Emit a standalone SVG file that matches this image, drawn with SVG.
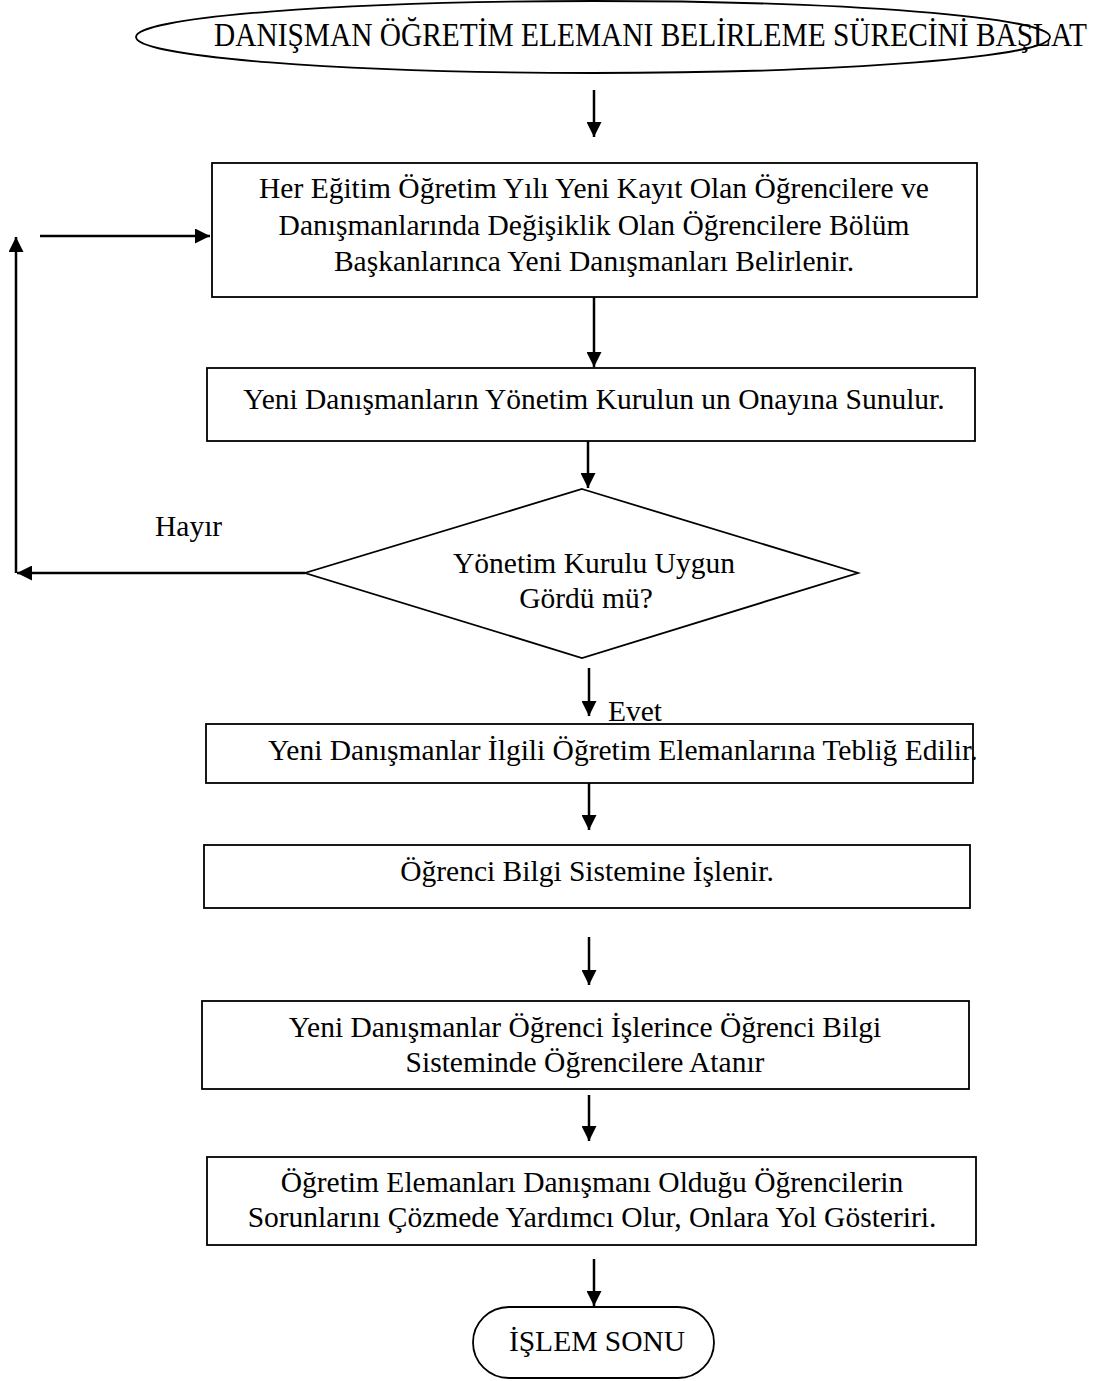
<svg xmlns="http://www.w3.org/2000/svg" width="1117" height="1381" viewBox="0 0 1117 1381">
  <style>
    .shape { fill: #ffffff; stroke: #000000; stroke-width: 1.8; }
    .line { fill: none; stroke: #000000; stroke-width: 2.5; }
    .txt { font-family: "Liberation Serif", "Times New Roman", serif; font-size: 29.5px; fill: #000000; }
    .title { font-size: 34px; }
    .mid { text-anchor: middle; }
  </style>
  <defs>
    <marker id="arrow" viewBox="0 0 10 10" refX="10" refY="5" markerWidth="6" markerHeight="6" markerUnits="strokeWidth" orient="auto">
      <path d="M0,0 L10,5 L0,10 z" fill="#000000"/>
    </marker>
  </defs>
  <rect width="1117" height="1381" fill="#ffffff"/>

  <!-- connectors -->
  <g id="connectors">
    <line class="line" x1="594" y1="90" x2="594" y2="137" marker-end="url(#arrow)"/>
    <line class="line" x1="594" y1="297" x2="594" y2="367" marker-end="url(#arrow)"/>
    <line class="line" x1="588" y1="441" x2="588" y2="488" marker-end="url(#arrow)"/>
    <!-- "Hayır" loop back to the first step -->
    <line class="line" x1="305" y1="573" x2="17" y2="573" marker-end="url(#arrow)"/>
    <line class="line" x1="16" y1="573" x2="16" y2="237" marker-end="url(#arrow)"/>
    <line class="line" x1="40" y1="236" x2="210" y2="236" marker-end="url(#arrow)"/>
    <!-- "Evet" path -->
    <line class="line" x1="589" y1="668" x2="589" y2="716" marker-end="url(#arrow)"/>
    <line class="line" x1="589" y1="783" x2="589" y2="830" marker-end="url(#arrow)"/>
    <line class="line" x1="589" y1="937" x2="589" y2="985" marker-end="url(#arrow)"/>
    <line class="line" x1="589" y1="1095" x2="589" y2="1141" marker-end="url(#arrow)"/>
    <line class="line" x1="594" y1="1259" x2="594" y2="1306" marker-end="url(#arrow)"/>
    <text class="txt" x="155" y="536">Hayır</text>
    <text class="txt" x="608" y="721">Evet</text>
  </g>

  <g id="start">
    <ellipse class="shape" cx="593" cy="37" rx="457" ry="36"/>
    <text class="txt title" x="214" y="46" textLength="873" lengthAdjust="spacingAndGlyphs">DANIŞMAN ÖĞRETİM ELEMANI BELİRLEME SÜRECİNİ BAŞLAT</text>
  </g>

  <g id="step1">
    <rect class="shape" x="212" y="163" width="765" height="134"/>
    <text class="txt mid" x="594" y="198">Her Eğitim Öğretim Yılı Yeni Kayıt Olan Öğrencilere ve</text>
    <text class="txt mid" x="594" y="235">Danışmanlarında Değişiklik Olan Öğrencilere Bölüm</text>
    <text class="txt mid" x="594" y="271">Başkanlarınca Yeni Danışmanları Belirlenir.</text>
  </g>

  <g id="step2">
    <rect class="shape" x="207" y="368" width="768" height="73"/>
    <text class="txt mid" x="594" y="409">Yeni Danışmanların Yönetim Kurulun un Onayına Sunulur.</text>
  </g>

  <g id="decision">
    <polygon class="shape" points="582,489 858,573 582,658 305,573"/>
    <text class="txt mid" x="594" y="573">Yönetim Kurulu Uygun</text>
    <text class="txt mid" x="586" y="608">Gördü mü?</text>
  </g>

  <g id="step3">
    <rect class="shape" x="206" y="724" width="767" height="59"/>
    <text class="txt" x="268" y="760">Yeni Danışmanlar İlgili Öğretim Elemanlarına Tebliğ Edilir.</text>
  </g>

  <g id="step4">
    <rect class="shape" x="204" y="845" width="766" height="63"/>
    <text class="txt mid" x="587" y="881">Öğrenci Bilgi Sistemine İşlenir.</text>
  </g>

  <g id="step5">
    <rect class="shape" x="202" y="1001" width="767" height="88"/>
    <text class="txt mid" x="585" y="1037">Yeni Danışmanlar Öğrenci İşlerince Öğrenci Bilgi</text>
    <text class="txt mid" x="585" y="1072">Sisteminde Öğrencilere Atanır</text>
  </g>

  <g id="step6">
    <rect class="shape" x="207" y="1157" width="769" height="88"/>
    <text class="txt mid" x="592" y="1192">Öğretim Elemanları Danışmanı Olduğu Öğrencilerin</text>
    <text class="txt mid" x="592" y="1227">Sorunlarını Çözmede Yardımcı Olur, Onlara Yol Gösteriri.</text>
  </g>

  <g id="end">
    <rect class="shape" x="473" y="1307" width="241" height="71" rx="36" ry="36"/>
    <text class="txt mid" x="597" y="1351">İŞLEM SONU</text>
  </g>
</svg>
